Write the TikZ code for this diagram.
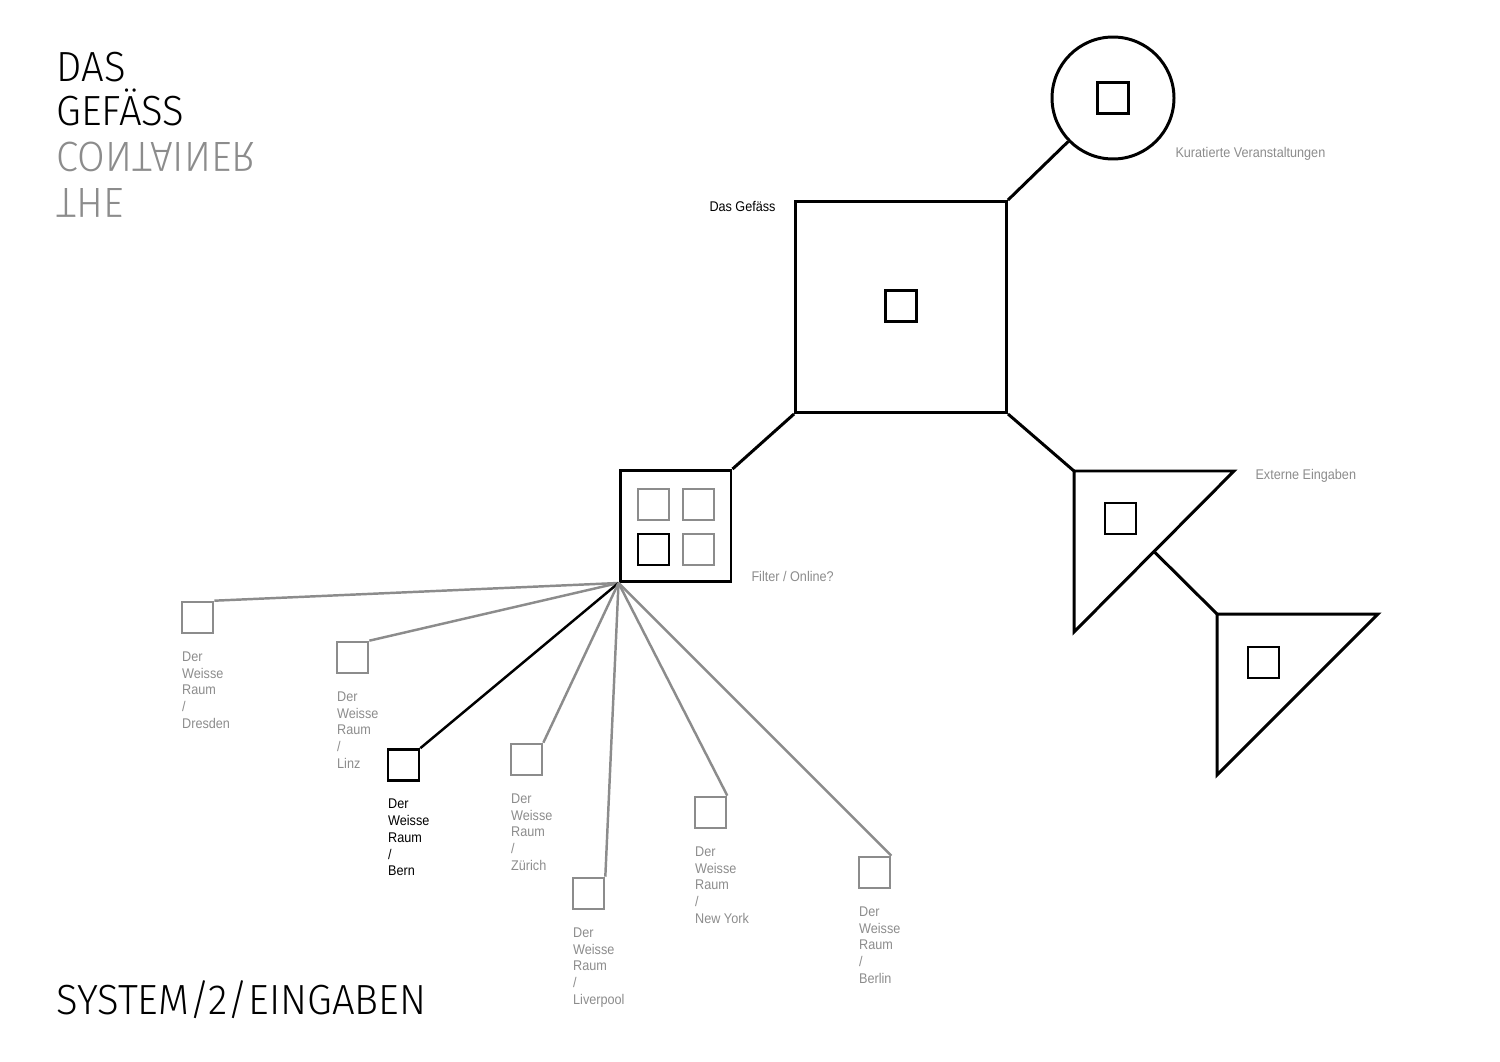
\documentclass[tikz,border=0pt]{standalone}
\usepackage{fontspec}
\setmainfont{Liberation Sans}[FakeStretch=0.9]
\newfontfamily\duenn{Fira Sans Light}[FakeStretch=0.95]
\usetikzlibrary{positioning}
\definecolor{grau}{HTML}{8C8C8C}

\begin{document}
\begin{tikzpicture}[x=0.02cm, y=-0.02cm, line width=1.7pt,
  kasten/.style={draw, rectangle, inner sep=0pt, minimum size=0.62cm, line width=1.6pt},
  blatt/.style={kasten, line width=1.5pt},
  ort/.style={font=\fontsize{8}{9.5}\selectfont, align=left, inner sep=0pt},
  titel/.style={font=\duenn\fontsize{24}{25}\selectfont, inner sep=0pt, anchor=base west}]
\useasboundingbox (0,0) rectangle (1500,1061);

% titel
\node[titel] (das) at (55,82) {DAS};
\node[titel] (gef-t) at (55,126) {GEFÄSS};
\node[titel, text=grau] (cont) at (55,142) {\scalebox{1}[-1]{CONTAINER}};
\node[titel, text=grau] (the) at (55,188) {\scalebox{1}[-1]{THE}};
\node[titel] (sys) at (55,1014) {SYSTEM/2/EINGABEN};

% das gefaess
\node[draw, minimum size=4.22cm, inner sep=0pt] (gef) at (901,307) {};
\node[kasten] (gef-k) at (901,306) {};
\node[ort, anchor=base west] (gef-lbl) at (708,211) {Das Gefäss};

% kuratierte veranstaltungen
\node[draw, circle, minimum size=2.44cm, inner sep=0pt] (kur) at (1113,98) {};
\node[kasten] (kur-k) at (1113,98) {};
\node[ort, text=grau, anchor=base west] (kur-lbl) at (1174,157) {Kuratierte Veranstaltungen};
\draw (gef.north east) -- (kur);

% externe eingaben
\coordinate (t1a) at (1074,471);
\coordinate (t1b) at (1234,471);
\coordinate (t1c) at (1074,632);
\coordinate (t1m) at (1154,551.5);
\coordinate (t2a) at (1217,614);
\coordinate (t2b) at (1378,614);
\coordinate (t2c) at (1217,775);
\draw (t1a) -- (t1b) -- (t1c) -- cycle;
\draw (t2a) -- (t2b) -- (t2c) -- cycle;
\node[kasten] (t1k) at (1120.5,518.5) {};
\node[kasten] (t2k) at (1263.5,662.5) {};
\node[ort, text=grau, anchor=base west] (ext-lbl) at (1254,479) {Externe Eingaben};
\draw (gef.south east) -- (t1a);
\draw (t1m) -- (t2a);

% filter
\node[draw, minimum size=2.22cm, inner sep=0pt] (filter) at (675.5,526) {};
\node[kasten, draw=grau] (f1) at (653.5,504.5) {};
\node[kasten, draw=grau] (f2) at (698.5,504.5) {};
\node[kasten] (f3) at (653.5,549.5) {};
\node[kasten, draw=grau] (f4) at (698.5,549.5) {};
\node[ort, text=grau, anchor=base west] (filter-lbl) at (750,581) {Filter / Online?};
\draw (filter.north east) -- (gef.south west);

% der weisse raum
\foreach \n/\x/\y/\ort/\farbe in {dres/197.5/617.5/Dresden/grau, linz/352.5/657.5/Linz/grau,
  bern/403.5/765/Bern/black, zuer/526.5/759.5/Zürich/grau, liv/588.5/893.5/Liverpool/grau,
  ny/710.5/812.5/New York/grau, ber/874.5/872.5/Berlin/grau} {
  \node[blatt, draw=\farbe] (\n) at (\x,\y) {};
  \node[ort, text=\farbe, below=0.32cm of \n.south west, anchor=north west] (\n-lbl) {Der\\Weisse\\Raum\\/\\\ort};
  \draw[\farbe, line width=1.4pt] (filter.south west) -- (\n.north east);
}
\end{tikzpicture}
\end{document}
